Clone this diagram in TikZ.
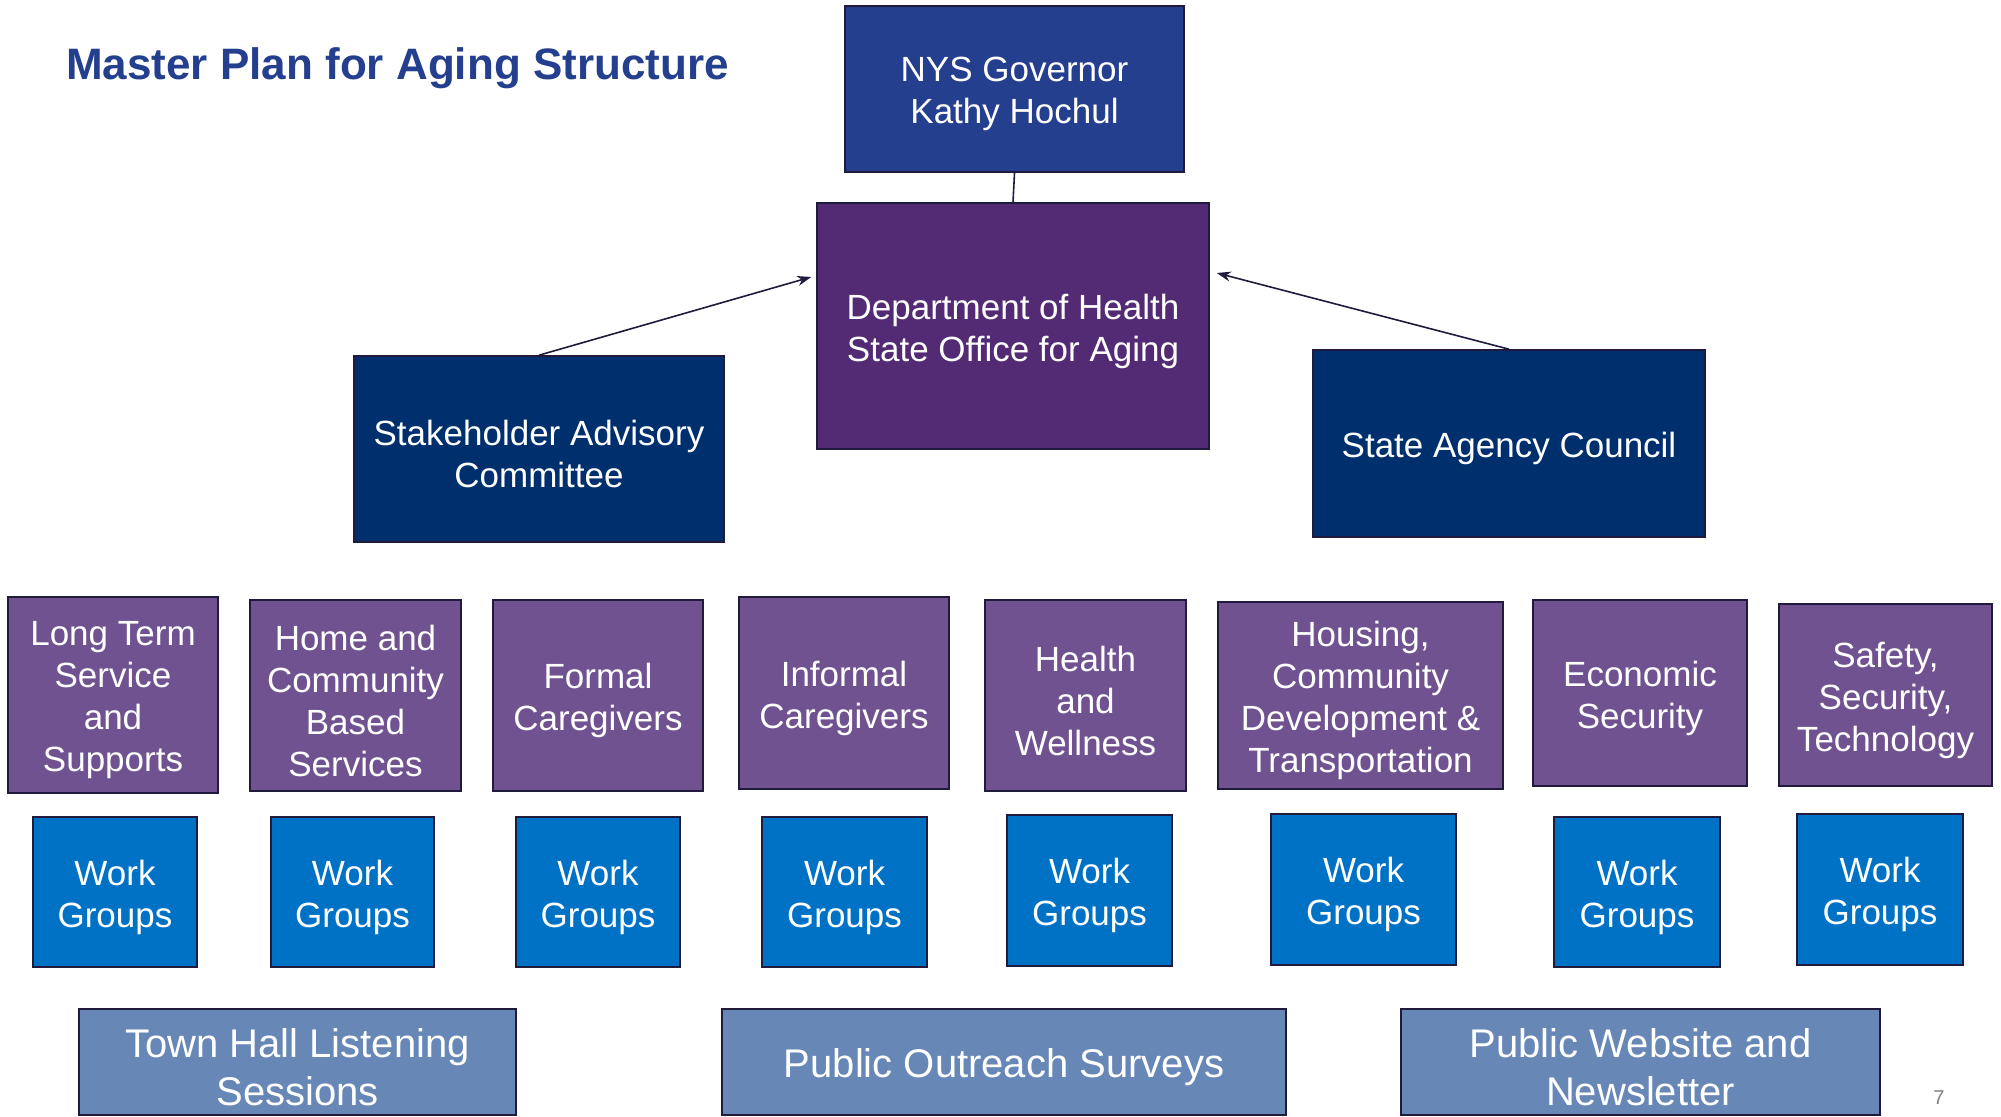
\documentclass[tikz,border=0pt]{standalone}
\usepackage{fontspec}
\setmainfont{Liberation Sans}
\usetikzlibrary{arrows.meta}
\definecolor{govblue}{RGB}{37,63,143}
\definecolor{dohpurple}{RGB}{83,42,116}
\definecolor{navy}{RGB}{0,47,110}
\definecolor{lpurple}{RGB}{113,82,145}
\definecolor{wgblue}{RGB}{0,114,198}
\definecolor{slate}{RGB}{103,135,183}
\definecolor{edge}{RGB}{32,26,60}
\newcommand\bx[7]{%
 \pgfmathsetmacro\bxcx{(#3+#5)/2}\pgfmathsetmacro\bxcy{(#4+#6)/2}%
 \pgfmathsetmacro\bxww{#5-#3}\pgfmathsetmacro\bxhh{#6-#4}%
 \node[#2, minimum width=\bxww pt, minimum height=\bxhh pt] (#1) at (\bxcx,\bxcy) {};
 \node[#2, draw=none, fill=none] (#1-t) at ([yshift=-5pt]#1.center) {#7};}
\begin{document}
\begin{tikzpicture}[x=1pt,y=-1pt,
  boxbase/.style={draw=edge, line width=1.6pt, inner sep=0pt, align=center, text=white,
     font=\fontsize{35}{42}\selectfont},
  govbox/.style={boxbase, fill=govblue},
  dohbox/.style={boxbase, fill=dohpurple},
  navybox/.style={boxbase, fill=navy},
  areabox/.style={boxbase, fill=lpurple},
  wgbox/.style={boxbase, fill=wgblue},
  pubbox/.style={boxbase, fill=slate, font=\fontsize{40}{48}\selectfont},
  conn/.style={draw=edge, line width=1.6pt},
  arr/.style={conn, -{Stealth[length=14pt,width=10pt]}}]
\useasboundingbox[fill=white] (0,0) rectangle (2001,1116);
\node[anchor=west, text=govblue, font=\fontsize{44}{52}\selectfont\bfseries, inner sep=0pt] (title) at (66,68) {Master Plan for Aging Structure};

\bx{gov}{govbox}{845}{6}{1184}{172}{NYS Governor\\Kathy Hochul}
\bx{doh}{dohbox}{817}{203}{1209}{449}{Department of Health\\State Office for Aging}
\bx{sac}{navybox}{354}{356}{724}{542}{Stakeholder Advisory\\Committee}
\bx{sag}{navybox}{1313}{350}{1705}{537}{State Agency Council}

\draw[conn] (gov.south) -- (doh.north);
\draw[arr] (sac.north) -- ([xshift=-5pt,yshift=49pt]doh.west);
\draw[arr] (sag.north) -- ([xshift=7pt,yshift=53pt]doh.east);

\bx{a1}{areabox}{8}{597}{218}{793}{Long Term\\Service\\and\\Supports}
\bx{a2}{areabox}{250}{600}{461}{791}{Home and\\Community\\Based\\Services}
\bx{a3}{areabox}{493}{600}{703}{791}{Formal\\Caregivers}
\bx{a4}{areabox}{739}{597}{949}{789}{Informal\\Caregivers}
\bx{a5}{areabox}{985}{600}{1186}{791}{Health\\and\\Wellness}
\bx{a6}{areabox}{1218}{602}{1503}{789}{Housing,\\Community\\Development \&\\Transportation}
\bx{a7}{areabox}{1533}{600}{1747}{786}{Economic\\Security}
\bx{a8}{areabox}{1779}{604}{1992}{786}{Safety,\\Security,\\Technology}

\bx{w1}{wgbox}{33}{817}{197}{967}{Work\\Groups}
\bx{w2}{wgbox}{271}{817}{434}{967}{Work\\Groups}
\bx{w3}{wgbox}{516}{817}{680}{967}{Work\\Groups}
\bx{w4}{wgbox}{762}{817}{927}{967}{Work\\Groups}
\bx{w5}{wgbox}{1007}{815}{1172}{966}{Work\\Groups}
\bx{w6}{wgbox}{1271}{814}{1456}{965}{Work\\Groups}
\bx{w7}{wgbox}{1554}{817}{1720}{967}{Work\\Groups}
\bx{w8}{wgbox}{1797}{814}{1963}{965}{Work\\Groups}

\bx{p1}{pubbox}{79}{1009}{516}{1115}{Town Hall Listening\\Sessions}
\bx{p2}{pubbox}{722}{1009}{1286}{1115}{Public Outreach Surveys}
\bx{p3}{pubbox}{1401}{1009}{1880}{1115}{Public Website and\\Newsletter}

\node[text=gray, font=\fontsize{20}{24}\selectfont, inner sep=0pt] (pg) at (1939,1098) {7};
\end{tikzpicture}
\end{document}
